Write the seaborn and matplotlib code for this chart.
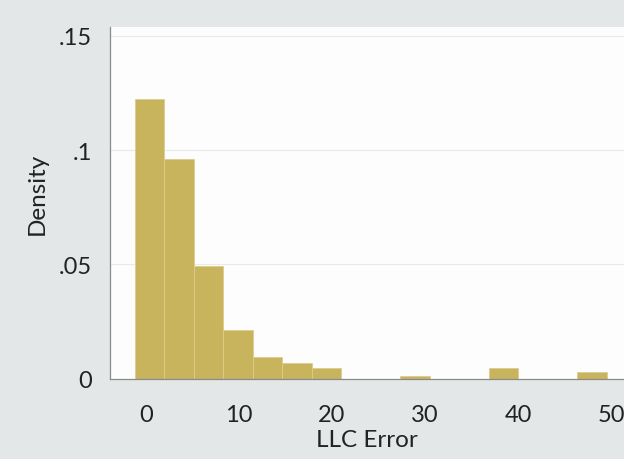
import numpy as np
import pandas as pd
import matplotlib
matplotlib.use("Agg")
import matplotlib.pyplot as plt
import seaborn as sns

# Histogram bins (LLC Error) and read-off densities
bin_start = -1.2
bin_width = 3.17
n_bins = 16
densities = [0.1223, 0.0960, 0.0495, 0.0215, 0.0095, 0.0070, 0.0047, 0.0,
             0.0, 0.0012, 0.0, 0.0, 0.0049, 0.0, 0.0, 0.0029]
x_ticks = [0, 10, 20, 30, 40, 50]
y_ticks = [0, 0.05, 0.10, 0.15]
y_tick_labels = ["0", ".05", ".1", ".15"]

edges = [float(bin_start + bin_width * i) for i in range(n_bins + 1)]
centers = [(edges[i] + edges[i + 1]) / 2 for i in range(n_bins)]
df = pd.DataFrame({"LLC Error": centers, "Density": densities})

sns.set_theme(style="white")
plt.rcParams['font.family'] = ['Lato', 'DejaVu Sans']

fig = plt.figure(figsize=(6.24, 4.6), dpi=100, facecolor="#e4e7e7")
ax = fig.add_axes([0.176, 0.174, 0.824, 0.765])
ax.set_facecolor("#fdfdfd")

sns.histplot(data=df, x="LLC Error", weights="Density", binwidth=bin_width,
             binrange=(edges[0], edges[-1]), stat="count",
             color="#c9b45e", edgecolor="#dccd8e", linewidth=0.6, alpha=1.0, ax=ax)

ax.set_xlim(-3.9, 51.4)
ax.set_ylim(0, 0.1537)
ax.set_yticks(y_ticks)
ax.set_yticklabels(y_tick_labels)
ax.set_xticks(x_ticks)
for y in y_ticks[1:]:
    ax.axhline(y, color="#e8eaea", lw=0.8, zorder=0)

for s in ["top", "right"]:
    ax.spines[s].set_visible(False)
for s in ["left", "bottom"]:
    ax.spines[s].set_color("#8a8a8a")
    ax.spines[s].set_linewidth(0.9)
ax.tick_params(axis="both", direction="out", length=4, width=0.8, color="#8a8a8a",
               labelsize=17, labelcolor="#222222")
ax.tick_params(axis="x", pad=14)
ax.tick_params(axis="y", pad=9)
ax.set_xlabel("LLC Error", fontsize=17.5, color="#222222", labelpad=3)
ax.set_ylabel("Density", fontsize=17.5, color="#222222", labelpad=8)
ax.yaxis.label.set_y(0.53)

fig.savefig("out.png", dpi=100, facecolor=fig.get_facecolor())
